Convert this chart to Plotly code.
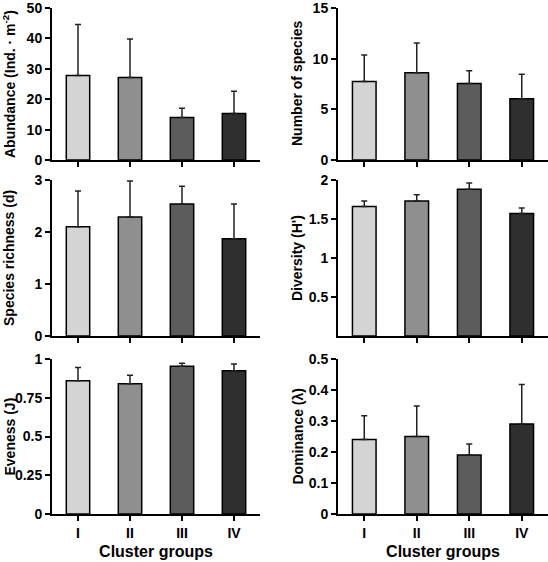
import plotly.graph_objects as go
from plotly.subplots import make_subplots

groups = ["I", "II", "III", "IV"]
bar_colors = ["#d4d4d4", "#8f8f8f", "#5c5c5c", "#2f2f2f"]

abundance = [27.8, 27.1, 14.0, 15.3]
abundance_err = [16.8, 12.7, 3.0, 7.3]

n_species = [7.75, 8.6, 7.55, 6.05]
n_species_err = [2.6, 2.95, 1.25, 2.4]

richness = [2.1, 2.29, 2.54, 1.87]
richness_err = [0.69, 0.69, 0.34, 0.67]

diversity = [1.66, 1.73, 1.88, 1.57]
diversity_err = [0.07, 0.08, 0.08, 0.07]

eveness = [0.86, 0.84, 0.953, 0.925]
eveness_err = [0.085, 0.055, 0.02, 0.042]

dominance = [0.24, 0.25, 0.19, 0.29]
dominance_err = [0.077, 0.098, 0.036, 0.128]

panels = [
    (1, 1, abundance, abundance_err, "Abundance (Ind. · m<sup>-2</sup>)", [0, 50], [0, 10, 20, 30, 40, 50], ["0", "10", "20", "30", "40", "50"]),
    (1, 2, n_species, n_species_err, "Number of species", [0, 15], [0, 5, 10, 15], ["0", "5", "10", "15"]),
    (2, 1, richness, richness_err, "Species richness (d)", [0, 3], [0, 1, 2, 3], ["0", "1", "2", "3"]),
    (2, 2, diversity, diversity_err, "Diversity (H')", [0, 2], [0.5, 1, 1.5, 2], ["0.5", "1", "1.5", "2"]),
    (3, 1, eveness, eveness_err, "Eveness (J)", [0, 1], [0, 0.25, 0.5, 0.75, 1], ["0", "0.25", "0.5", "0.75", "1"]),
    (3, 2, dominance, dominance_err, "Dominance (λ)", [0, 0.5], [0, 0.1, 0.2, 0.3, 0.4, 0.5], ["0", "0.1", "0.2", "0.3", "0.4", "0.5"]),
]

W, H = 548, 562
ML, MR, MT, MB = 52, 0, 0, 48
PW, PH = W - ML - MR, H - MT - MB


def xd(a, b):
    return [(a - ML) / PW, (b - ML) / PW]


def yd(top, bot):
    return [(H - MB - bot) / PH, (H - MB - top) / PH]


xdom = {1: xd(52, 260), 2: xd(338, 548)}
ydom = {1: yd(8, 160), 2: yd(180, 336), 3: yd(359, 514)}
title_x = {1: 9, 2: 297}

fig = make_subplots(rows=3, cols=2)
font_family = "Liberation Sans, Arial, sans-serif"

for r, c, vals, errs, title, yr, tv, tt in panels:
    fig.add_trace(
        go.Bar(
            x=groups,
            y=vals,
            width=0.45,
            marker=dict(color=bar_colors, line=dict(color="black", width=1.5)),
            error_y=dict(
                type="data",
                symmetric=False,
                array=errs,
                arrayminus=[0] * len(errs),
                color="#222222",
                thickness=1.5,
                width=3,
            ),
            showlegend=False,
        ),
        row=r,
        col=c,
    )
    xaxis_kw = dict(
        domain=xdom[c],
        range=[-0.5, 3.5],
        showline=True,
        linecolor="black",
        linewidth=2,
        ticks="outside",
        ticklen=5,
        tickwidth=1.5,
        tickcolor="black",
        showticklabels=(r == 3),
        tickfont=dict(family=font_family, size=14, color="black", weight="bold"),
        showgrid=False,
        zeroline=False,
        automargin=False,
    )
    if r == 3:
        xaxis_kw["title"] = dict(text="Cluster groups",
                                 font=dict(family=font_family, size=16, color="black", weight="bold"),
                                 standoff=6)
    fig.update_xaxes(row=r, col=c, **xaxis_kw)
    fig.update_yaxes(
        domain=ydom[r],
        range=yr,
        tickvals=tv,
        ticktext=tt,
        showline=True,
        linecolor="black",
        linewidth=2,
        ticks="outside",
        ticklen=5,
        tickwidth=1.5,
        tickcolor="black",
        tickfont=dict(family=font_family, size=14, color="black", weight="bold"),
        ticklabeloverflow="allow",
        showgrid=False,
        zeroline=False,
        automargin=False,
        row=r,
        col=c,
    )
    fig.add_annotation(
        text=title,
        xref="paper",
        yref="paper",
        x=(title_x[c] - ML) / PW,
        y=(ydom[r][0] + ydom[r][1]) / 2,
        xanchor="center",
        yanchor="middle",
        textangle=-90,
        showarrow=False,
        font=dict(family=font_family, size=14, color="black", weight="bold"),
    )

fig.update_layout(
    width=W,
    height=H,
    margin=dict(l=ML, r=MR, t=MT, b=MB),
    plot_bgcolor="white",
    paper_bgcolor="white",
)

fig.write_html(
    "out.html",
    config={"displayModeBar": False},
    post_script="document.body.style.margin='0';document.body.style.overflow='hidden';",
)
